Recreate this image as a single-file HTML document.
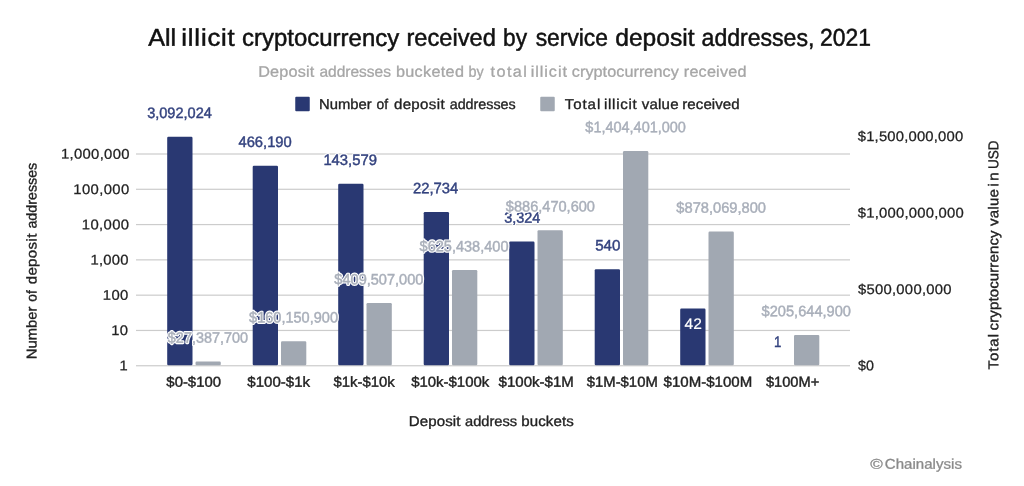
<!DOCTYPE html>
<html><head><meta charset="utf-8"><title>Chart</title>
<style>html,body{margin:0;padding:0;background:#fff;overflow:hidden}svg{display:block;will-change:transform;transform:translateZ(0)}</style></head>
<body>
<svg width="1024" height="486" viewBox="0 0 1024 486" font-family="Liberation Sans, sans-serif">
<text transform="translate(148.25,45.80) rotate(0.05) scale(1.0380,1)" font-size="24.2" fill="#111"  stroke="#111" stroke-width="0.5" >All</text>
<text transform="translate(181.33,45.80) rotate(0.05) scale(1.0600,1)" font-size="24.2" fill="#111" letter-spacing="0.777" stroke="#111" stroke-width="0.5" >illicit</text>
<text transform="translate(242.04,45.80) rotate(0.05) scale(0.9906,1)" font-size="24.2" fill="#111"  stroke="#111" stroke-width="0.5" >cryptocurrency</text>
<text transform="translate(406.46,45.80) rotate(0.05) scale(0.9779,1)" font-size="24.2" fill="#111"  stroke="#111" stroke-width="0.5" >received</text>
<text transform="translate(503.02,45.80) rotate(0.05) scale(0.9391,1)" font-size="24.2" fill="#111"  stroke="#111" stroke-width="0.5" >by</text>
<text transform="translate(535.68,45.80) rotate(0.05) scale(0.9431,1)" font-size="24.2" fill="#111"  stroke="#111" stroke-width="0.5" >service</text>
<text transform="translate(615.27,45.80) rotate(0.05) scale(1.0152,1)" font-size="24.2" fill="#111"  stroke="#111" stroke-width="0.5" >deposit</text>
<text transform="translate(701.58,45.80) rotate(0.05) scale(0.9539,1)" font-size="24.2" fill="#111"  stroke="#111" stroke-width="0.5" >addresses,</text>
<text transform="translate(820.11,45.80) rotate(0.05) scale(0.9458,1)" font-size="24.2" fill="#111"  stroke="#111" stroke-width="0.5" >2021</text>
<text transform="translate(258.20,76.75) rotate(0.05) scale(1.0600,1)" font-size="15.3" fill="#a6a6a6" letter-spacing="0.181" stroke="#a6a6a6" stroke-width="0.3" >Deposit</text>
<text transform="translate(319.38,76.75) rotate(0.05) scale(1.0149,1)" font-size="15.3" fill="#a6a6a6"  stroke="#a6a6a6" stroke-width="0.3" >addresses</text>
<text transform="translate(395.95,76.75) rotate(0.05) scale(1.0600,1)" font-size="15.3" fill="#a6a6a6" letter-spacing="0.294" stroke="#a6a6a6" stroke-width="0.3" >bucketed</text>
<text transform="translate(468.56,76.75) rotate(0.05) scale(0.9408,1)" font-size="15.3" fill="#a6a6a6"  stroke="#a6a6a6" stroke-width="0.3" >by</text>
<text transform="translate(490.56,76.75) rotate(0.05) scale(1.0600,1)" font-size="15.3" fill="#a6a6a6" letter-spacing="1.331" stroke="#a6a6a6" stroke-width="0.3" >total</text>
<text transform="translate(530.70,76.75) rotate(0.05) scale(1.0600,1)" font-size="15.3" fill="#a6a6a6" letter-spacing="0.883" stroke="#a6a6a6" stroke-width="0.3" >illicit</text>
<text transform="translate(571.80,76.75) rotate(0.05) scale(1.0600,1)" font-size="15.3" fill="#a6a6a6" letter-spacing="0.051" stroke="#a6a6a6" stroke-width="0.3" >cryptocurrency</text>
<text transform="translate(683.80,76.75) rotate(0.05) scale(1.0600,1)" font-size="15.3" fill="#a6a6a6" letter-spacing="0.185" stroke="#a6a6a6" stroke-width="0.3" >received</text>
<rect x="295.25" y="96.75" width="14.5" height="14.5" rx="1" fill="#293872"/>
<text transform="translate(319.07,108.90) rotate(0.05) scale(1.0416,1)" font-size="14.2" fill="#222"  stroke="#222" stroke-width="0.35" >Number</text>
<text transform="translate(376.45,108.90) rotate(0.05) scale(0.9744,1)" font-size="14.2" fill="#222"  stroke="#222" stroke-width="0.35" >of</text>
<text transform="translate(393.90,108.90) rotate(0.05) scale(1.0600,1)" font-size="14.2" fill="#222" letter-spacing="0.347" stroke="#222" stroke-width="0.35" >deposit</text>
<text transform="translate(449.68,108.90) rotate(0.05) scale(1.0083,1)" font-size="14.2" fill="#222"  stroke="#222" stroke-width="0.35" >addresses</text>
<rect x="540.25" y="96.75" width="14.5" height="14.5" rx="1" fill="#a1a8b2"/>
<text transform="translate(564.70,108.90) rotate(0.05) scale(1.0600,1)" font-size="14.2" fill="#222" letter-spacing="0.889" stroke="#222" stroke-width="0.35" >Total</text>
<text transform="translate(604.02,108.90) rotate(0.05) scale(1.0600,1)" font-size="14.2" fill="#222" letter-spacing="0.657" stroke="#222" stroke-width="0.35" >illicit</text>
<text transform="translate(641.67,108.90) rotate(0.05) scale(1.0600,1)" font-size="14.2" fill="#222" letter-spacing="0.225" stroke="#222" stroke-width="0.35" >value</text>
<text transform="translate(682.27,108.90) rotate(0.05) scale(1.0600,1)" font-size="14.2" fill="#222" letter-spacing="0.065" stroke="#222" stroke-width="0.35" >received</text>
<rect x="136.0" y="365.15" width="714.0" height="1.2" fill="#cccccc"/>
<rect x="136.0" y="329.86" width="714.0" height="1.2" fill="#cccccc"/>
<rect x="136.0" y="294.57" width="714.0" height="1.2" fill="#cccccc"/>
<rect x="136.0" y="259.27" width="714.0" height="1.2" fill="#cccccc"/>
<rect x="136.0" y="223.98" width="714.0" height="1.2" fill="#cccccc"/>
<rect x="136.0" y="188.69" width="714.0" height="1.2" fill="#cccccc"/>
<rect x="136.0" y="153.40" width="714.0" height="1.2" fill="#cccccc"/>
<text transform="translate(119.50,370.35) rotate(0.05) scale(1.0509,1)" font-size="14.0" fill="#222"  stroke="#222" stroke-width="0.25" >1</text>
<text transform="translate(111.19,335.06) rotate(0.05) scale(1.0600,1)" font-size="14.0" fill="#222" letter-spacing="0.340" stroke="#222" stroke-width="0.25" >10</text>
<text transform="translate(102.79,299.77) rotate(0.05) scale(1.0600,1)" font-size="14.0" fill="#222" letter-spacing="0.389" stroke="#222" stroke-width="0.25" >100</text>
<text transform="translate(90.39,264.48) rotate(0.05) scale(1.0600,1)" font-size="14.0" fill="#222" letter-spacing="0.267" stroke="#222" stroke-width="0.25" >1,000</text>
<text transform="translate(81.79,229.18) rotate(0.05) scale(1.0600,1)" font-size="14.0" fill="#222" letter-spacing="0.363" stroke="#222" stroke-width="0.25" >10,000</text>
<text transform="translate(73.24,193.89) rotate(0.05) scale(1.0600,1)" font-size="14.0" fill="#222" letter-spacing="0.383" stroke="#222" stroke-width="0.25" >100,000</text>
<text transform="translate(60.94,158.60) rotate(0.05) scale(1.0600,1)" font-size="14.0" fill="#222" letter-spacing="0.308" stroke="#222" stroke-width="0.25" >1,000,000</text>
<text transform="translate(857.96,370.35) rotate(0.05) scale(1.0195,1)" font-size="14.0" fill="#222"  stroke="#222" stroke-width="0.25" >$0</text>
<text transform="translate(857.95,293.88) rotate(0.05) scale(1.0600,1)" font-size="14.0" fill="#222" letter-spacing="0.251" stroke="#222" stroke-width="0.25" >$500,000,000</text>
<text transform="translate(857.75,217.42) rotate(0.05) scale(1.0600,1)" font-size="14.0" fill="#222" letter-spacing="0.213" stroke="#222" stroke-width="0.25" >$1,000,000,000</text>
<text transform="translate(857.75,140.95) rotate(0.05) scale(1.0600,1)" font-size="14.0" fill="#222" letter-spacing="0.176" stroke="#222" stroke-width="0.25" >$1,500,000,000</text>
<rect x="167.20" y="136.70" width="25.3" height="228.45" rx="1.2" fill="#293872"/>
<rect x="195.50" y="361.56" width="25.3" height="3.59" rx="1.2" fill="#a1a8b2"/>
<rect x="252.70" y="165.70" width="25.3" height="199.45" rx="1.2" fill="#293872"/>
<rect x="281.00" y="341.26" width="25.3" height="23.89" rx="1.2" fill="#a1a8b2"/>
<rect x="338.20" y="183.75" width="25.3" height="181.40" rx="1.2" fill="#293872"/>
<rect x="366.50" y="303.12" width="25.3" height="62.03" rx="1.2" fill="#a1a8b2"/>
<rect x="423.70" y="212.00" width="25.3" height="153.15" rx="1.2" fill="#293872"/>
<rect x="452.00" y="270.10" width="25.3" height="95.05" rx="1.2" fill="#a1a8b2"/>
<rect x="509.20" y="241.46" width="25.3" height="123.69" rx="1.2" fill="#293872"/>
<rect x="537.50" y="230.18" width="25.3" height="134.97" rx="1.2" fill="#a1a8b2"/>
<rect x="594.70" y="269.32" width="25.3" height="95.83" rx="1.2" fill="#293872"/>
<rect x="623.00" y="150.97" width="25.3" height="214.18" rx="1.2" fill="#a1a8b2"/>
<rect x="680.20" y="308.46" width="25.3" height="56.69" rx="1.2" fill="#293872"/>
<rect x="708.50" y="231.46" width="25.3" height="133.69" rx="1.2" fill="#a1a8b2"/>
<rect x="794.00" y="334.90" width="25.3" height="30.25" rx="1.2" fill="#a1a8b2"/>
<text transform="translate(147.17,117.95) rotate(0.05) scale(0.9565,1)" font-size="15.2" fill="#fff"   stroke="#fff" stroke-width="2.8" stroke-linejoin="round">3,092,024</text>
<text transform="translate(147.17,117.95) rotate(0.05) scale(0.9565,1)" font-size="15.2" fill="#34437f"  stroke="#34437f" stroke-width="0.45" >3,092,024</text>
<text transform="translate(238.46,146.95) rotate(0.05) scale(0.9702,1)" font-size="15.2" fill="#fff"   stroke="#fff" stroke-width="2.8" stroke-linejoin="round">466,190</text>
<text transform="translate(238.46,146.95) rotate(0.05) scale(0.9702,1)" font-size="15.2" fill="#34437f"  stroke="#34437f" stroke-width="0.45" >466,190</text>
<text transform="translate(323.39,165.00) rotate(0.05) scale(0.9741,1)" font-size="15.2" fill="#fff"   stroke="#fff" stroke-width="2.8" stroke-linejoin="round">143,579</text>
<text transform="translate(323.39,165.00) rotate(0.05) scale(0.9741,1)" font-size="15.2" fill="#34437f"  stroke="#34437f" stroke-width="0.45" >143,579</text>
<text transform="translate(413.01,193.25) rotate(0.05) scale(0.9753,1)" font-size="15.2" fill="#fff"   stroke="#fff" stroke-width="2.8" stroke-linejoin="round">22,734</text>
<text transform="translate(413.01,193.25) rotate(0.05) scale(0.9753,1)" font-size="15.2" fill="#34437f"  stroke="#34437f" stroke-width="0.45" >22,734</text>
<text transform="translate(504.17,222.71) rotate(0.05) scale(0.9524,1)" font-size="15.2" fill="#fff"   stroke="#fff" stroke-width="2.8" stroke-linejoin="round">3,324</text>
<text transform="translate(504.17,222.71) rotate(0.05) scale(0.9524,1)" font-size="15.2" fill="#34437f"  stroke="#34437f" stroke-width="0.45" >3,324</text>
<text transform="translate(595.15,250.57) rotate(0.05) scale(0.9930,1)" font-size="15.2" fill="#fff"   stroke="#fff" stroke-width="2.8" stroke-linejoin="round">540</text>
<text transform="translate(595.15,250.57) rotate(0.05) scale(0.9930,1)" font-size="15.2" fill="#34437f"  stroke="#34437f" stroke-width="0.45" >540</text>
<text transform="translate(774.01,347.00) rotate(0.05) scale(0.8696,1)" font-size="15.2" fill="#fff"   stroke="#fff" stroke-width="2.8" stroke-linejoin="round">1</text>
<text transform="translate(774.01,347.00) rotate(0.05) scale(0.8696,1)" font-size="15.2" fill="#34437f"  stroke="#34437f" stroke-width="0.45" >1</text>
<text transform="translate(684.49,328.90) rotate(0.05) scale(1.0248,1)" font-size="15.2" fill="#ffffff"  stroke="#ffffff" stroke-width="0.15" >42</text>
<text transform="translate(167.86,342.81) rotate(0.05) scale(0.9484,1)" font-size="15.2" fill="#fff"   stroke="#fff" stroke-width="2.8" stroke-linejoin="round">$27,387,700</text>
<text transform="translate(167.86,342.81) rotate(0.05) scale(0.9484,1)" font-size="15.2" fill="#a9afba"  stroke="#a9afba" stroke-width="0.45" >$27,387,700</text>
<text transform="translate(249.10,322.51) rotate(0.05) scale(0.9565,1)" font-size="15.2" fill="#fff"   stroke="#fff" stroke-width="2.8" stroke-linejoin="round">$160,150,900</text>
<text transform="translate(249.10,322.51) rotate(0.05) scale(0.9565,1)" font-size="15.2" fill="#a9afba"  stroke="#a9afba" stroke-width="0.45" >$160,150,900</text>
<text transform="translate(334.35,284.37) rotate(0.05) scale(0.9581,1)" font-size="15.2" fill="#fff"   stroke="#fff" stroke-width="2.8" stroke-linejoin="round">$409,507,000</text>
<text transform="translate(334.35,284.37) rotate(0.05) scale(0.9581,1)" font-size="15.2" fill="#a9afba"  stroke="#a9afba" stroke-width="0.45" >$409,507,000</text>
<text transform="translate(419.60,251.35) rotate(0.05) scale(0.9565,1)" font-size="15.2" fill="#fff"   stroke="#fff" stroke-width="2.8" stroke-linejoin="round">$625,438,400</text>
<text transform="translate(419.60,251.35) rotate(0.05) scale(0.9565,1)" font-size="15.2" fill="#a9afba"  stroke="#a9afba" stroke-width="0.45" >$625,438,400</text>
<text transform="translate(505.85,211.43) rotate(0.05) scale(0.9592,1)" font-size="15.2" fill="#fff"   stroke="#fff" stroke-width="2.8" stroke-linejoin="round">$886,470,600</text>
<text transform="translate(505.85,211.43) rotate(0.05) scale(0.9592,1)" font-size="15.2" fill="#a9afba"  stroke="#a9afba" stroke-width="0.45" >$886,470,600</text>
<text transform="translate(585.36,132.22) rotate(0.05) scale(0.9528,1)" font-size="15.2" fill="#fff"   stroke="#fff" stroke-width="2.8" stroke-linejoin="round">$1,404,401,000</text>
<text transform="translate(585.36,132.22) rotate(0.05) scale(0.9528,1)" font-size="15.2" fill="#a9afba"  stroke="#a9afba" stroke-width="0.45" >$1,404,401,000</text>
<text transform="translate(676.35,212.71) rotate(0.05) scale(0.9646,1)" font-size="15.2" fill="#fff"   stroke="#fff" stroke-width="2.8" stroke-linejoin="round">$878,069,800</text>
<text transform="translate(676.35,212.71) rotate(0.05) scale(0.9646,1)" font-size="15.2" fill="#a9afba"  stroke="#a9afba" stroke-width="0.45" >$878,069,800</text>
<text transform="translate(761.60,316.15) rotate(0.05) scale(0.9619,1)" font-size="15.2" fill="#fff"   stroke="#fff" stroke-width="2.8" stroke-linejoin="round">$205,644,900</text>
<text transform="translate(761.60,316.15) rotate(0.05) scale(0.9619,1)" font-size="15.2" fill="#a9afba"  stroke="#a9afba" stroke-width="0.45" >$205,644,900</text>
<text transform="translate(166.35,386.80) rotate(0.05) scale(1.0273,1)" font-size="14.5" fill="#222"  stroke="#222" stroke-width="0.4" >$0-$100</text>
<text transform="translate(247.35,386.80) rotate(0.05) scale(1.0378,1)" font-size="14.5" fill="#222"  stroke="#222" stroke-width="0.4" >$100-$1k</text>
<text transform="translate(333.55,386.80) rotate(0.05) scale(1.0265,1)" font-size="14.5" fill="#222"  stroke="#222" stroke-width="0.4" >$1k-$10k</text>
<text transform="translate(411.15,386.80) rotate(0.05) scale(1.0315,1)" font-size="14.5" fill="#222"  stroke="#222" stroke-width="0.4" >$10k-$100k</text>
<text transform="translate(498.55,386.80) rotate(0.05) scale(1.0380,1)" font-size="14.5" fill="#222"  stroke="#222" stroke-width="0.4" >$100k-$1M</text>
<text transform="translate(586.75,386.80) rotate(0.05) scale(1.0260,1)" font-size="14.5" fill="#222"  stroke="#222" stroke-width="0.4" >$1M-$10M</text>
<text transform="translate(663.55,386.80) rotate(0.05) scale(1.0392,1)" font-size="14.5" fill="#222"  stroke="#222" stroke-width="0.4" >$10M-$100M</text>
<text transform="translate(765.95,386.80) rotate(0.05) scale(1.0100,1)" font-size="14.5" fill="#222"  stroke="#222" stroke-width="0.4" >$100M+</text>
<text transform="translate(408.70,425.90) rotate(0.05) scale(1.0600,1)" font-size="14.2" fill="#222" letter-spacing="0.118" stroke="#222" stroke-width="0.35" >Deposit</text>
<text transform="translate(465.01,425.90) rotate(0.05) scale(1.0306,1)" font-size="14.2" fill="#222"  stroke="#222" stroke-width="0.35" >address</text>
<text transform="translate(521.27,425.90) rotate(0.05) scale(1.0600,1)" font-size="14.2" fill="#222" letter-spacing="0.102" stroke="#222" stroke-width="0.35" >buckets</text>
<g transform="translate(36.4,358.0) rotate(-90)">
<text transform="translate(-1.18,0.00) rotate(0.05) scale(1.0416,1)" font-size="14.2" fill="#222"  stroke="#222" stroke-width="0.35" >Number</text>
<text transform="translate(56.20,0.00) rotate(0.05) scale(0.9744,1)" font-size="14.2" fill="#222"  stroke="#222" stroke-width="0.35" >of</text>
<text transform="translate(73.65,0.00) rotate(0.05) scale(1.0600,1)" font-size="14.2" fill="#222" letter-spacing="0.347" stroke="#222" stroke-width="0.35" >deposit</text>
<text transform="translate(129.43,0.00) rotate(0.05) scale(1.0051,1)" font-size="14.2" fill="#222"  stroke="#222" stroke-width="0.35" >addresses</text>
</g>
<g transform="translate(998.3,369.3) rotate(-90)">
<text transform="translate(-0.30,0.00) rotate(0.05) scale(1.0600,1)" font-size="14.2" fill="#222" letter-spacing="0.901" stroke="#222" stroke-width="0.35" >Total</text>
<text transform="translate(38.90,0.00) rotate(0.05) scale(1.0600,1)" font-size="14.2" fill="#222" letter-spacing="0.092" stroke="#222" stroke-width="0.35" >cryptocurrency</text>
<text transform="translate(143.32,0.00) rotate(0.05) scale(1.0600,1)" font-size="14.2" fill="#222" letter-spacing="0.237" stroke="#222" stroke-width="0.35" >value</text>
<text transform="translate(182.72,0.00) rotate(0.05) scale(1.0600,1)" font-size="14.2" fill="#222" letter-spacing="2.256" stroke="#222" stroke-width="0.35" >in</text>
<text transform="translate(200.29,0.00) rotate(0.05) scale(0.9519,1)" font-size="14.2" fill="#222"  stroke="#222" stroke-width="0.35" >USD</text>
</g>
<text transform="translate(870.14,468.70) rotate(0.05) scale(1.1987,1)" font-size="14.2" fill="#8a8a8a"  stroke="#8a8a8a" stroke-width="0.3" >©</text>
<text transform="translate(884.75,468.70) rotate(0.05) scale(1.0600,1)" font-size="14.2" fill="#8a8a8a" letter-spacing="0.027" stroke="#8a8a8a" stroke-width="0.3" >Chainalysis</text>
</svg>
</body></html>
